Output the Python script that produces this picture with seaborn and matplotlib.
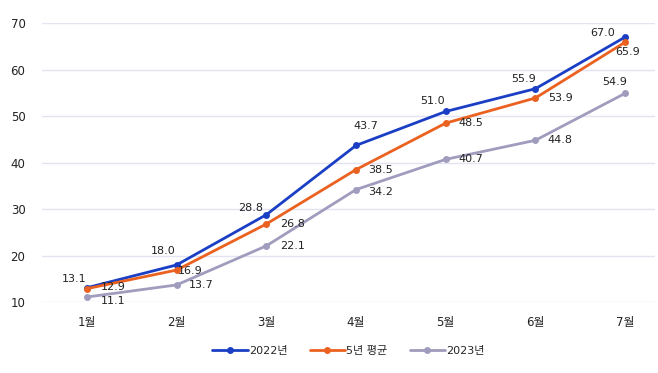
import matplotlib
matplotlib.use("Agg")
import matplotlib.pyplot as plt
import seaborn as sns
import pandas as pd

# 데이터
months = ["1월", "2월", "3월", "4월", "5월", "6월", "7월"]
y2022 = [13.1, 18.0, 28.8, 43.7, 51.0, 55.9, 67.0]
avg5 = [12.9, 16.9, 26.8, 38.5, 48.5, 53.9, 65.9]
y2023 = [11.1, 13.7, 22.1, 34.2, 40.7, 44.8, 54.9]
series_names = ["2022년", "5년 평균", "2023년"]
colors = ["#1b3fc4", "#ea6120", "#9f9cbd"]

sns.set_style("white")
plt.rcParams["font.family"] = ["DejaVu Sans", "Noto Sans CJK KR"]

df = pd.DataFrame({
    "idx": list(range(len(months))) * 3,
    "value": y2022 + avg5 + y2023,
    "series": sum([[n] * len(months) for n in series_names], []),
})

fig = plt.figure(figsize=(6.58, 3.73), dpi=100)
ax = fig.add_axes([0.064, 0.19, 0.931, 0.748])

sns.lineplot(data=df, x="idx", y="value", hue="series", hue_order=series_names,
             palette=colors, marker="o", markersize=5, markeredgewidth=0,
             linewidth=2, ax=ax)

# 데이터 레이블 위치 (픽셀 오프셋)
offsets = {
    "2022년": [(-13, 9), (-13, 14), (-16, 7), (10, 19), (-13, 10), (-12, 10), (-22, 4)],
    "5년 평균": [(26, 2), (14, -1), (26, 0), (25, 0), (25, 0), (25, 0), (3, -10)],
    "2023년": [(26, -4), (25, 0), (26, 0), (25, -2), (25, 0), (25, 0), (-10, 11)],
}
for name, vals in zip(series_names, [y2022, avg5, y2023]):
    for i, v in enumerate(vals):
        dx, dy = offsets[name][i]
        ax.annotate(f"{v:.1f}", (i, v), xytext=(dx, dy), textcoords="offset pixels",
                    ha="center", va="center", fontsize=8, color="#222222")

ax.set_xlim(-0.5, 6.33)
ax.set_ylim(10, 70)
ax.set_yticks(range(10, 71, 10))
ax.set_xticks(range(len(months)))
ax.set_xticklabels(months)
ax.tick_params(axis="both", length=0, labelsize=8.5, colors="#222222")
ax.tick_params(axis="y", pad=12)
ax.tick_params(axis="x", pad=10)
ax.grid(axis="y", color="#e3e3f3", linewidth=1)
for s in ax.spines.values():
    s.set_visible(False)
ax.set_xlabel("")
ax.set_ylabel("")

ax.legend(loc="upper center", bbox_to_anchor=(0.5, -0.12), ncol=3, frameon=False,
          fontsize=8, handlelength=3.2, columnspacing=2.0, handletextpad=0.1)

fig.savefig("out.png", dpi=100)
